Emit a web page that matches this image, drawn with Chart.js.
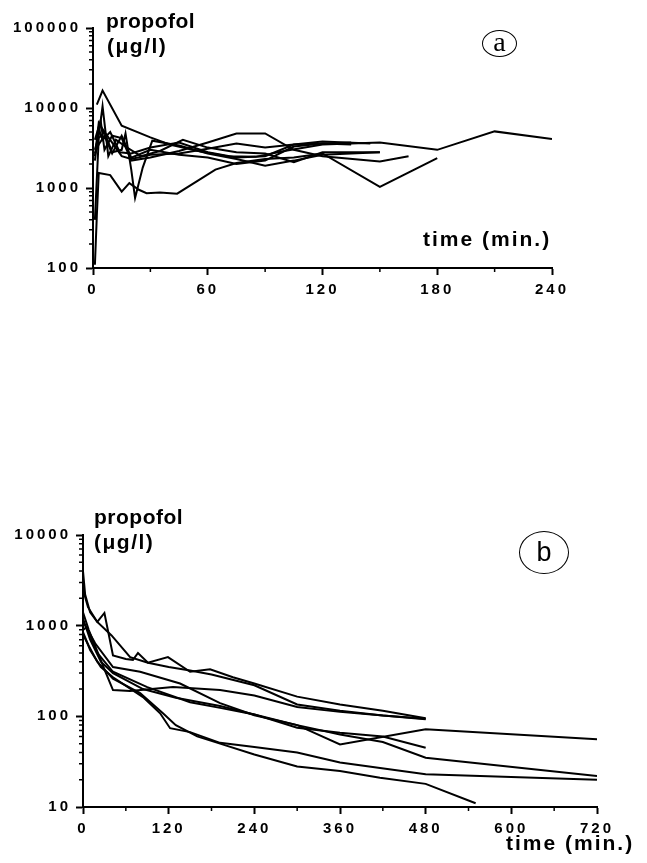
<!DOCTYPE html>
<html><head><meta charset="utf-8">
<script src="https://cdn.jsdelivr.net/npm/chart.js@4.4.1/dist/chart.umd.min.js"></script>
<style>
body{margin:0;background:#fff;width:647px;height:863px;position:relative;overflow:hidden;font-family:'Liberation Sans',Arial,sans-serif;}
canvas{position:absolute;left:0;}
.t{position:absolute;font-weight:bold;font-size:21px;line-height:21px;color:#000;white-space:nowrap;}
.circ{position:absolute;border:1.5px solid #000;border-radius:50%;display:flex;align-items:center;justify-content:center;box-sizing:border-box;color:#000;line-height:1;}
</style></head><body>
<canvas id="ca" width="647" height="330" style="top:0px"></canvas>
<canvas id="cb" width="647" height="383" style="top:480px"></canvas>

<div class="t" style="left:106px;top:10px;letter-spacing:0.5px">propofol</div>
<div class="t" style="left:107px;top:35px;letter-spacing:1.5px">(μg/l)</div>
<div class="t" style="left:423px;top:228px;letter-spacing:2px">time (min.)</div>
<div class="circ" style="left:482px;top:30px;width:35px;height:27px;font-family:'Liberation Serif',serif;font-size:28px;"><span style="margin-top:-4px">a</span></div>

<div class="t" style="left:94px;top:506px;letter-spacing:0.5px">propofol</div>
<div class="t" style="left:94px;top:531px;letter-spacing:1.5px">(μg/l)</div>
<div class="t" style="left:506px;top:832px;letter-spacing:2px">time (min.)</div>
<div class="circ" style="left:519px;top:531px;width:50px;height:43px;font-family:'Liberation Sans',sans-serif;font-size:27px;">b</div>

<script>
// ---------- Panel a: propofol (µg/l) vs time (min), 0-240 ----------
const aXTicks = [0, 60, 120, 180, 240];
const aYTicks = [100, 1000, 10000, 100000];

const aT1 = [2, 5, 15, 30, 40, 55, 70, 85, 100, 120, 150, 180, 210, 240];
const aV1 = [11000, 16500, 6000, 4300, 3500, 2900, 2500, 2450, 2900, 3500, 3700, 3000, 5100, 4100];
const aT2 = [1, 2, 3, 9, 15, 19, 24, 28, 35, 44, 64, 75, 90, 105, 120, 150, 180];
const aV2 = [110, 450, 1540, 1450, 900, 1150, 950, 860, 880, 850, 1700, 2050, 2300, 2400, 2700, 1030, 2370];
const aT3 = [1, 3, 6, 10, 15, 17, 20, 22, 26, 31, 45, 60, 75, 90, 105, 120, 150];
const aV3 = [400, 4200, 5000, 2800, 3000, 4800, 1700, 750, 1800, 3900, 3400, 2700, 2300, 1900, 2200, 2600, 2800];
const aT4 = [1, 3, 6, 9, 15, 20, 30, 45, 60, 75, 90, 105, 120, 135];
const aV4 = [2500, 6500, 5000, 4000, 2500, 2300, 2600, 2700, 3100, 3600, 3200, 3500, 3600, 3500];
const aT5 = [1, 4, 6, 10, 15, 20, 30, 45, 60, 75, 90, 105, 120, 150, 165];
const aV5 = [4000, 7000, 3000, 4500, 4200, 2200, 2400, 2900, 3700, 4800, 4800, 3000, 2500, 2150, 2500];
const aT6 = [1, 3, 6, 10, 15, 20, 30, 45, 60, 75, 90, 105, 120, 135];
const aV6 = [2700, 3500, 4500, 2700, 4500, 2400, 3000, 2600, 2400, 2000, 2200, 3300, 3600, 3700];
const aT7 = [1, 3, 5, 8, 12, 17, 25, 35, 47, 60, 75, 90, 105, 120, 150];
const aV7 = [3000, 4500, 10500, 2500, 4000, 3300, 2500, 2900, 4000, 3200, 2800, 2700, 2100, 2800, 2800];
const aT8 = [1, 3, 5, 9, 14, 20, 30, 45, 60, 75, 90, 105, 120, 145];
const aV8 = [2200, 5500, 4000, 5000, 2800, 2700, 3200, 3700, 2800, 2400, 2500, 3500, 3800, 3600];

// ---------- Panel b: propofol (µg/l) vs time (min), 0-720 ----------
const bXTicks = [0, 120, 240, 360, 480, 600, 720];
const bYTicks = [10, 100, 1000, 10000];

const bT1 = [0, 3, 10, 20, 30, 42, 60, 70, 77, 91, 119, 150, 178, 210, 240, 300, 360, 420, 480];
const bV1 = [4000, 2200, 1400, 1100, 1380, 470, 430, 420, 500, 390, 450, 310, 330, 270, 230, 165, 135, 115, 95];
const bT2 = [0, 7, 20, 40, 66, 91, 120, 150, 180, 240, 300, 360, 420, 480];
const bV2 = [2500, 1600, 1100, 780, 450, 390, 350, 320, 290, 220, 135, 115, 102, 93];
const bT3 = [0, 8, 17, 30, 42, 66, 126, 192, 240, 300, 360, 420, 480];
const bV3 = [1400, 900, 600, 330, 195, 190, 210, 195, 170, 127, 112, 102, 94];
const bT4 = [0, 5, 17, 42, 80, 136, 192, 240, 300, 360, 480, 720];
const bV4 = [1100, 950, 640, 350, 310, 230, 140, 103, 80, 49, 72, 56];
const bT5 = [0, 5, 20, 42, 90, 150, 192, 240, 300, 360, 420, 480, 720];
const bV5 = [900, 960, 500, 310, 210, 143, 124, 105, 80, 63, 52, 35, 22];
const bT6 = [0, 10, 25, 42, 84, 130, 192, 240, 300, 360, 420, 480];
const bV6 = [1200, 700, 400, 300, 200, 160, 130, 105, 75, 66, 60, 45];
const bT7 = [0, 10, 25, 42, 84, 108, 122, 150, 192, 240, 300, 360, 480, 720];
const bV7 = [850, 540, 350, 270, 163, 108, 74, 67, 51, 46, 40, 31, 23, 20];
const bT8 = [0, 8, 20, 42, 80, 112, 130, 160, 192, 240, 300, 360, 416, 480, 550];
const bV8 = [800, 600, 400, 260, 180, 108, 80, 60, 50, 38, 28, 25, 21, 18, 11];

const aSeries = [[aT1, aV1], [aT2, aV2], [aT3, aV3], [aT4, aV4], [aT5, aV5], [aT6, aV6], [aT7, aV7], [aT8, aV8]];
const bSeries = [[bT1, bV1], [bT2, bV2], [bT3, bV3], [bT4, bV4], [bT5, bV5], [bT6, bV6], [bT7, bV7], [bT8, bV8]];

const minorTicks = {
  id: 'minorTicks',
  beforeDraw(chart) { chart.ctx.letterSpacing = '3px'; },
  afterDraw(chart, args, opts) {
    const ctx = chart.ctx, xs = chart.scales.x, ys = chart.scales.y;
    ctx.save();
    ctx.strokeStyle = '#000';
    ctx.lineWidth = 1.5;
    ctx.beginPath();
    opts.xMinor.forEach(v => {
      const px = xs.getPixelForValue(v);
      ctx.moveTo(px, ys.bottom); ctx.lineTo(px, ys.bottom + 4);
    });
    opts.yMinor.forEach(v => {
      const py = ys.getPixelForValue(v);
      ctx.moveTo(xs.left - 4, py); ctx.lineTo(xs.left + 1, py);
    });
    ctx.stroke();
    ctx.restore();
  }
};

function makeChart(id, series, xTicks, yTicks, pad, yWidth) {
  const xMinor = [];
  for (let i = 0; i < xTicks.length - 1; i++) xMinor.push((xTicks[i] + xTicks[i + 1]) / 2);
  const yMinor = [];
  for (let i = 0; i < yTicks.length - 1; i++) for (let k = 2; k <= 9; k++) yMinor.push(yTicks[i] * k);
  const font = { family: "'Liberation Sans', Arial, sans-serif", size: 15, weight: 'bold' };
  const noPad = s => { s.paddingTop = 0; s.paddingBottom = 0; s.paddingLeft = 0; s.paddingRight = 0; };
  return new Chart(document.getElementById(id), {
    type: 'line',
    data: {
      datasets: series.map(([t, v]) => ({
        data: t.map((x, i) => ({ x: x, y: v[i] })),
        borderColor: '#000', borderWidth: 2, pointRadius: 0, tension: 0, fill: false
      }))
    },
    options: {
      responsive: false, animation: false, devicePixelRatio: 1,
      layout: { padding: pad },
      plugins: { legend: { display: false }, tooltip: { enabled: false }, minorTicks: { xMinor, yMinor } },
      scales: {
        x: {
          type: 'linear', min: xTicks[0], max: xTicks[xTicks.length - 1],
          afterBuildTicks: s => { s.ticks = xTicks.map(v => ({ value: v })); },
          afterFit: s => { s.height = 34; noPad(s); },
          border: { display: true, color: '#000', width: 2 },
          grid: { drawOnChartArea: false, drawTicks: true, tickLength: 7, tickColor: '#000', tickWidth: 2 },
          ticks: { color: '#000', font, padding: 6, maxRotation: 0, autoSkip: false, callback: v => String(v) }
        },
        y: {
          type: 'logarithmic', min: yTicks[0], max: yTicks[yTicks.length - 1],
          afterBuildTicks: s => { s.ticks = yTicks.map(v => ({ value: v, major: true })); },
          afterFit: s => { s.width = yWidth; noPad(s); },
          border: { display: true, color: '#000', width: 2 },
          grid: { drawOnChartArea: false, drawTicks: true, tickLength: 7, tickColor: '#000', tickWidth: 2 },
          ticks: { color: '#000', font, padding: 5, autoSkip: false, callback: v => String(v) }
        }
      }
    },
    plugins: [minorTicks]
  });
}

makeChart('ca', aSeries, aXTicks, aYTicks, { top: 28, right: 95, bottom: 28, left: 0 }, 93);
makeChart('cb', bSeries, bXTicks, bYTicks, { top: 55, right: 50, bottom: 22, left: 0 }, 83);
</script>
</body></html>
